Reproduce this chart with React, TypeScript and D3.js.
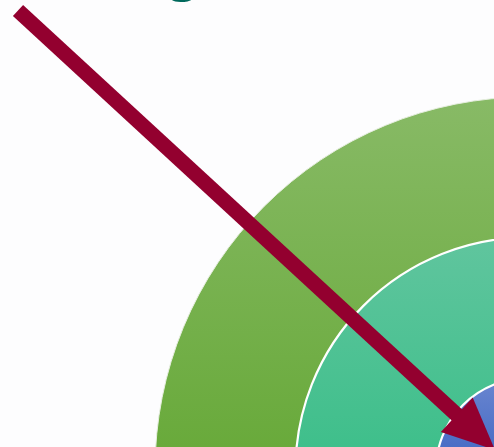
import { useEffect, useRef } from 'react';
import * as d3 from 'd3';

const W = 494, H = 447;
const CX = 528, CY = 470;

// rings, outermost first
const rings = ['Outer', 'Middle', 'Inner'];
const ringLevels = [3, 2, 1];
const ringTop = ['#88ba66', '#60c59e', '#6a86d0'];
const ringBottom = ['#69aa3b', '#3fbf8b', '#4a6ec6'];

// arrow: from start to tip, in chart units
const arrowFrom = [18, 10.5];
const arrowTo = [495, 450];

const title = 'Target';

export default function App() {
  const svgRef = useRef<SVGSVGElement | null>(null);

  useEffect(() => {
    const svg = d3.select(svgRef.current);
    svg.selectAll('*').remove();

    const r = d3.scaleLinear().domain([1, 3]).range([92, 373]);

    svg.append('rect').attr('width', W).attr('height', H).attr('fill', '#fdfdfe');

    const defs = svg.append('defs');
    rings.forEach((name, i) => {
      const rr = r(ringLevels[i]);
      const grad = defs.append('linearGradient')
        .attr('id', `g-${i}`)
        .attr('gradientUnits', 'userSpaceOnUse')
        .attr('x1', 0).attr('x2', 0)
        .attr('y1', CY - rr).attr('y2', H);
      grad.append('stop').attr('offset', 0).attr('stop-color', ringTop[i]);
      grad.append('stop').attr('offset', 1).attr('stop-color', ringBottom[i]);
    });

    svg.append('g')
      .selectAll('circle')
      .data(rings)
      .join('circle')
      .attr('cx', CX)
      .attr('cy', CY)
      .attr('r', (_, i) => r(ringLevels[i]))
      .attr('fill', (_, i) => `url(#g-${i})`)
      .attr('stroke', (_, i) => (i === 0 ? '#e6eedf' : '#ffffff'))
      .attr('stroke-width', (_, i) => (i === 0 ? 1 : 2.2));

    // arrow
    const [x0, y0] = arrowFrom;
    const [x1, y1] = arrowTo;
    const dx = x1 - x0, dy = y1 - y0;
    const len = Math.hypot(dx, dy);
    const ux = dx / len, uy = dy / len;
    const headLen = 52, headHalf = 23.5, shaft = 15;
    const bx = x1 - ux * headLen, by = y1 - uy * headLen;
    const color = '#93002f';

    svg.append('line')
      .attr('x1', x0).attr('y1', y0)
      .attr('x2', bx + ux * 2).attr('y2', by + uy * 2)
      .attr('stroke', color)
      .attr('stroke-width', shaft);

    const head = d3.path();
    head.moveTo(x1, y1);
    head.lineTo(bx - uy * headHalf, by + ux * headHalf);
    head.lineTo(bx + uy * headHalf, by - ux * headHalf);
    head.closePath();
    svg.append('path').attr('d', head.toString()).attr('fill', color);

    // title sits above the view; only the descender of its "g" peeks in
    const t = svg.append('text')
      .attr('x', 0)
      .attr('y', -11)
      .attr('font-family', 'Open Sans, sans-serif')
      .attr('font-size', 52)
      .attr('font-weight', 700)
      .attr('fill', '#00695c')
      .text(title);
    const node = t.node() as SVGTextElement;
    const gi = title.indexOf('g');
    try {
      const box = node.getExtentOfChar(gi);
      const gx = box.x + box.width / 2;
      t.attr('x', 183 - gx);
    } catch (e) {
      t.attr('x', 100);
    }
  }, []);

  return (
    <div style={{ position: 'fixed', left: 0, top: 0 }}>
      <svg ref={svgRef} width={W} height={H} style={{ display: 'block' }} />
    </div>
  );
}
